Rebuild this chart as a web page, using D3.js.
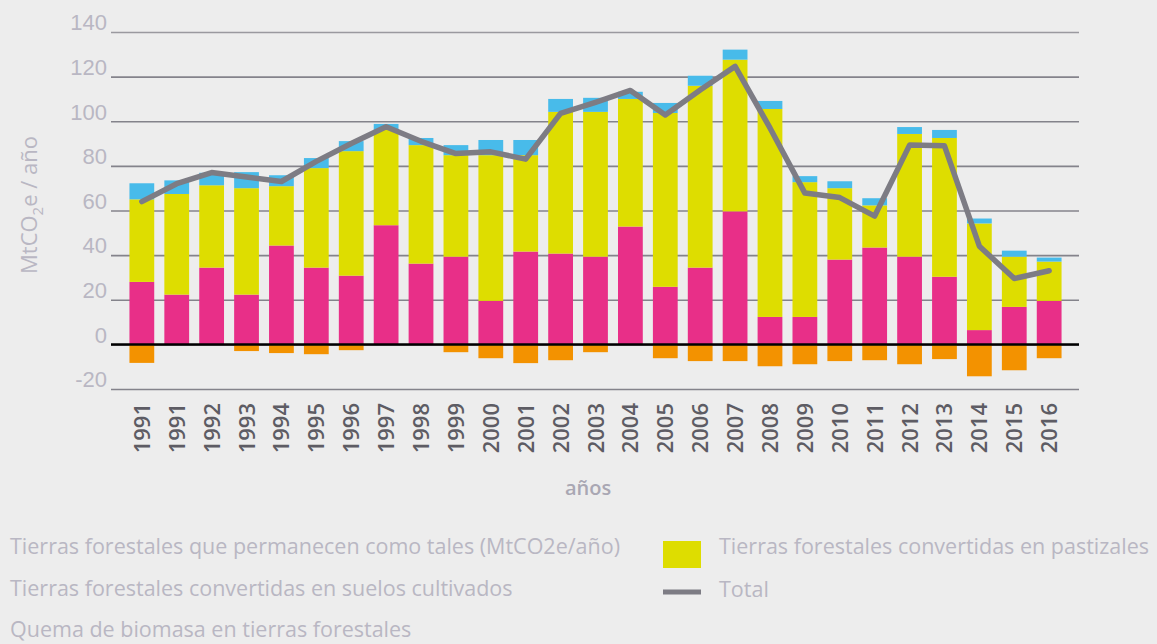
<!DOCTYPE html>
<html>
<head>
<meta charset="utf-8">
<script src="https://cdn.jsdelivr.net/npm/d3@7"></script>
<style>
  body { margin: 0; background: #ededed; }
  svg { display: block; font-family: 'Open Sans', sans-serif; }
</style>
</head>
<body>
<div id="chart"></div>
<script>
// categories (1991 appears twice in the original)
const years = ['1991','1991','1992','1993','1994','1995','1996','1997','1998','1999','2000',
               '2001','2002','2003','2004','2005','2006','2007','2008','2009','2010',
               '2011','2012','2013','2014','2015','2016'];

// series values (MtCO2e / año)
const cultivados = [28, 22.3, 34.4, 22.3, 44.3, 34.4, 30.8, 53.4, 36.2, 39.3, 19.5, 41.6, 40.7, 39.3,
                    52.8, 25.8, 34.4, 59.6, 12.3, 12.3, 38, 43.4, 39.3, 30.3, 6.4, 16.8, 19.5];
const pastizales = [37, 45.1, 36.9, 47.7, 26.6, 44.6, 55.8, 42.7, 53.1, 45.5, 65.3, 43.2, 63.5, 64.9,
                    57.2, 77.9, 81.5, 68, 93.2, 60.4, 32, 18.9, 55, 62.2, 47.8, 22.5, 17.6];
const quema = [7.2, 6.1, 5.6, 7.2, 4.9, 4.5, 4.5, 2.7, 3.2, 4.5, 6.8, 6.8, 5.8, 6.3,
               3.2, 4.5, 4.5, 4.5, 3.6, 2.7, 3.1, 3.2, 3.1, 3.6, 2.2, 2.7, 1.8];
const permanecen = [-8.3, 0, 0, -3, -3.9, -4.4, -2.6, 0, 0, -3.5, -6.2, -8.4, -7.1, -3.5,
                    0, -6.2, -7.5, -7.5, -9.8, -8.9, -7.5, -7.1, -8.9, -6.6, -14.3, -11.6, -6.2];
const total = [64, 72, 77, 75, 73, 82, 90, 97.5, 91, 85.5, 86.3, 83, 103.5, 108.5,
               113.8, 102.8, 114, 124.6, 97, 67.8, 65.8, 57.5, 89.3, 89, 44, 29.5, 33];

const yTicks = [-20, 0, 20, 40, 60, 80, 100, 120, 140];

const legendLeft = ['Tierras forestales que permanecen como tales (MtCO2e/año)',
                    'Tierras forestales convertidas en suelos cultivados',
                    'Quema de biomasa en tierras forestales'];

const width = 1157, height = 644;

const svg = d3.select('#chart').append('svg')
    .attr('width', width)
    .attr('height', height);

svg.append('rect')
    .attr('width', width).attr('height', height)
    .attr('fill', '#ededed');

// scales
const x = d3.scaleBand()
    .domain(d3.range(years.length))
    .range([112, 1079])
    .paddingInner(0.29)
    .paddingOuter(0.5);

const y = d3.scaleLinear()
    .domain([-20, 140])
    .range([389, 32]);

// grid lines + y labels
const yAxis = svg.append('g')
    .attr('transform', 'translate(111,0)')
    .call(d3.axisLeft(y).tickValues(yTicks).tickSize(-968).tickPadding(4).tickFormat(d => String(d)));
yAxis.select('.domain').remove();
yAxis.selectAll('.tick line')
    .attr('stroke', d => d === 140 ? '#9a999f' : '#84838b')
    .attr('stroke-width', 1.6);
yAxis.selectAll('.tick text')
    .attr('fill', '#b9b7c3')
    .style('font-size', '22px')
    .attr('dy', '-0.1em');

// stacked bars
const rows = years.map((yr, i) => ({
    i: i,
    cultivados: cultivados[i],
    pastizales: pastizales[i],
    quema: quema[i],
    permanecen: permanecen[i]
}));
const keys = ['cultivados', 'pastizales', 'quema', 'permanecen'];
const colors = {cultivados: '#e82f88', pastizales: '#dedd00', quema: '#48bbea', permanecen: '#f39200'};

const series = d3.stack().keys(keys).offset(d3.stackOffsetDiverging)(rows);

svg.append('g').selectAll('g')
    .data(series)
    .join('g')
    .attr('fill', s => colors[s.key])
    .selectAll('rect')
    .data(s => s)
    .join('rect')
    .attr('x', d => x(d.data.i))
    .attr('width', x.bandwidth())
    .attr('y', d => y(Math.max(d[0], d[1])))
    .attr('height', d => Math.abs(y(d[0]) - y(d[1])));

// zero line
svg.append('line')
    .attr('x1', 111).attr('x2', 1079)
    .attr('y1', y(0)).attr('y2', y(0))
    .attr('stroke', '#000')
    .attr('stroke-width', 2.5);

// total line
const line = d3.line()
    .x((d, i) => x(i) + x.bandwidth() / 2)
    .y(d => y(d));
svg.append('path')
    .datum(total)
    .attr('d', line)
    .attr('fill', 'none')
    .attr('stroke', '#7d7c84')
    .attr('stroke-width', 5.5)
    .attr('stroke-linejoin', 'round')
    .attr('stroke-linecap', 'round');

// x labels (rotated)
svg.append('g').selectAll('text')
    .data(years)
    .join('text')
    .attr('transform', (d, i) => `translate(${x(i) + x.bandwidth() / 2 + 8},403) rotate(-90)`)
    .attr('text-anchor', 'end')
    .attr('fill', '#5d5c64')
    .style('font-size', '22px')
    .style('font-weight', 600)
    .text(d => d);

// axis titles
svg.append('text')
    .attr('x', 588).attr('y', 495)
    .attr('text-anchor', 'middle')
    .attr('fill', '#a9a7b3')
    .style('font-size', '20px')
    .style('font-weight', 600)
    .text('años');

const yTitle = svg.append('text')
    .attr('transform', 'translate(37,205) rotate(-90)')
    .attr('text-anchor', 'middle')
    .attr('fill', '#b9b7c3')
    .style('font-size', '22px');
yTitle.append('tspan').text('MtCO');
yTitle.append('tspan').attr('dy', 6).style('font-size', '15px').text('2');
yTitle.append('tspan').attr('dy', -6).text('e / año');

// legend
svg.append('g').selectAll('text')
    .data(legendLeft)
    .join('text')
    .attr('x', 10)
    .attr('y', (d, i) => 554 + i * 41.5)
    .attr('fill', '#b9b7c3')
    .style('font-size', '21.5px')
    .text(d => d);

svg.append('rect')
    .attr('x', 663).attr('y', 541)
    .attr('width', 38).attr('height', 27)
    .attr('fill', colors.pastizales);
svg.append('text')
    .attr('x', 719).attr('y', 554)
    .attr('fill', '#b9b7c3')
    .style('font-size', '21.5px')
    .text('Tierras forestales convertidas en pastizales');

svg.append('line')
    .attr('x1', 663).attr('x2', 701)
    .attr('y1', 592).attr('y2', 592)
    .attr('stroke', '#7d7c84')
    .attr('stroke-width', 5);
svg.append('text')
    .attr('x', 719).attr('y', 597)
    .attr('fill', '#b9b7c3')
    .style('font-size', '21.5px')
    .text('Total');
</script>
</body>
</html>
